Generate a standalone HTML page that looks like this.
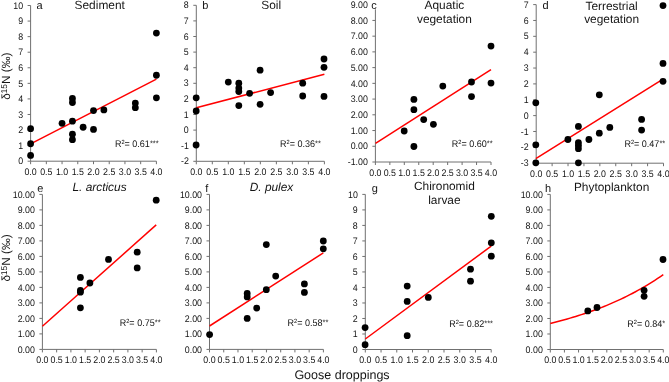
<!DOCTYPE html>
<html><head><meta charset="utf-8"><style>
html,body{margin:0;padding:0;background:#fff;width:669px;height:382px;overflow:hidden;position:relative}
text{font-family:"Liberation Sans", sans-serif;fill:#141414;text-rendering:geometricPrecision}
.tl{font-size:9.5px}
.tt{font-size:11.9px}
.it{font-style:italic}
.lt{font-size:11px}
.r2{font-size:9.6px}
.sup{font-size:6px}
.star{font-size:8px}
.sup2{font-size:8.5px}
.yt{font-size:11.8px}
.xt{font-size:12.5px}
</style></head><body>
<svg width="669" height="382" viewBox="0 0 669 382" style="position:absolute;left:0;top:0;will-change:transform"><g><path d="M30.60 5.50V161.20H156.40" fill="none" stroke="#707070" stroke-width="1"/><path d="M27.60 5.50H30.60M27.60 21.07H30.60M27.60 36.64H30.60M27.60 52.21H30.60M27.60 67.78H30.60M27.60 83.35H30.60M27.60 98.92H30.60M27.60 114.49H30.60M27.60 130.06H30.60M27.60 145.63H30.60M27.60 161.20H30.60M30.60 161.20V164.20M46.33 161.20V164.20M62.05 161.20V164.20M77.78 161.20V164.20M93.50 161.20V164.20M109.22 161.20V164.20M124.95 161.20V164.20M140.68 161.20V164.20M156.40 161.20V164.20" fill="none" stroke="#707070" stroke-width="1"/><text transform="translate(23.10 8.65) scale(0.93 1)" text-anchor="end" class="tl">10</text><text transform="translate(23.10 24.22) scale(0.93 1)" text-anchor="end" class="tl">9</text><text transform="translate(23.10 39.79) scale(0.93 1)" text-anchor="end" class="tl">8</text><text transform="translate(23.10 55.36) scale(0.93 1)" text-anchor="end" class="tl">7</text><text transform="translate(23.10 70.93) scale(0.93 1)" text-anchor="end" class="tl">6</text><text transform="translate(23.10 86.50) scale(0.93 1)" text-anchor="end" class="tl">5</text><text transform="translate(23.10 102.07) scale(0.93 1)" text-anchor="end" class="tl">4</text><text transform="translate(23.10 117.64) scale(0.93 1)" text-anchor="end" class="tl">3</text><text transform="translate(23.10 133.21) scale(0.93 1)" text-anchor="end" class="tl">2</text><text transform="translate(23.10 148.78) scale(0.93 1)" text-anchor="end" class="tl">1</text><text transform="translate(23.10 164.35) scale(0.93 1)" text-anchor="end" class="tl">0</text><text transform="translate(30.60 174.80) scale(0.93 1)" text-anchor="middle" class="tl">0.0</text><text transform="translate(46.33 174.80) scale(0.93 1)" text-anchor="middle" class="tl">0.5</text><text transform="translate(62.05 174.80) scale(0.93 1)" text-anchor="middle" class="tl">1.0</text><text transform="translate(77.78 174.80) scale(0.93 1)" text-anchor="middle" class="tl">1.5</text><text transform="translate(93.50 174.80) scale(0.93 1)" text-anchor="middle" class="tl">2.0</text><text transform="translate(109.22 174.80) scale(0.93 1)" text-anchor="middle" class="tl">2.5</text><text transform="translate(124.95 174.80) scale(0.93 1)" text-anchor="middle" class="tl">3.0</text><text transform="translate(140.68 174.80) scale(0.93 1)" text-anchor="middle" class="tl">3.5</text><text transform="translate(156.40 174.80) scale(0.93 1)" text-anchor="middle" class="tl">4.0</text><path d="M30.60 143.92L156.40 79.15" stroke="#ff0000" stroke-width="1.5" fill="none"/><circle cx="30.60" cy="128.66" r="3.4" fill="#000"/><circle cx="30.60" cy="143.76" r="3.4" fill="#000"/><circle cx="30.60" cy="155.44" r="3.4" fill="#000"/><circle cx="62.05" cy="123.36" r="3.4" fill="#000"/><circle cx="72.43" cy="98.45" r="3.4" fill="#000"/><circle cx="72.43" cy="102.50" r="3.4" fill="#000"/><circle cx="72.43" cy="121.19" r="3.4" fill="#000"/><circle cx="72.43" cy="134.26" r="3.4" fill="#000"/><circle cx="72.43" cy="139.71" r="3.4" fill="#000"/><circle cx="83.12" cy="127.26" r="3.4" fill="#000"/><circle cx="93.50" cy="110.60" r="3.4" fill="#000"/><circle cx="93.50" cy="129.44" r="3.4" fill="#000"/><circle cx="103.88" cy="109.97" r="3.4" fill="#000"/><circle cx="135.33" cy="103.12" r="3.4" fill="#000"/><circle cx="135.33" cy="107.64" r="3.4" fill="#000"/><circle cx="156.40" cy="97.83" r="3.4" fill="#000"/><circle cx="156.40" cy="33.06" r="3.4" fill="#000"/><circle cx="156.40" cy="75.25" r="3.4" fill="#000"/><text x="99.70" y="9.20" text-anchor="middle" class="tt">Sediment</text><text x="36.60" y="9.00" class="lt">a</text><text transform="translate(114.90 146.70) scale(0.94 1)" class="r2">R<tspan class="sup" dy="-3">2</tspan><tspan dy="3">= 0.61</tspan><tspan class="star" dy="-1">***</tspan></text></g><g><path d="M196.30 5.30V161.30H324.40" fill="none" stroke="#707070" stroke-width="1"/><path d="M193.30 5.30H196.30M193.30 20.90H196.30M193.30 36.50H196.30M193.30 52.10H196.30M193.30 67.70H196.30M193.30 83.30H196.30M193.30 98.90H196.30M193.30 114.50H196.30M193.30 130.10H196.30M193.30 145.70H196.30M193.30 161.30H196.30M196.30 161.30V164.30M212.31 161.30V164.30M228.32 161.30V164.30M244.34 161.30V164.30M260.35 161.30V164.30M276.36 161.30V164.30M292.38 161.30V164.30M308.39 161.30V164.30M324.40 161.30V164.30" fill="none" stroke="#707070" stroke-width="1"/><text transform="translate(188.80 8.45) scale(0.93 1)" text-anchor="end" class="tl">8</text><text transform="translate(188.80 24.05) scale(0.93 1)" text-anchor="end" class="tl">7</text><text transform="translate(188.80 39.65) scale(0.93 1)" text-anchor="end" class="tl">6</text><text transform="translate(188.80 55.25) scale(0.93 1)" text-anchor="end" class="tl">5</text><text transform="translate(188.80 70.85) scale(0.93 1)" text-anchor="end" class="tl">4</text><text transform="translate(188.80 86.45) scale(0.93 1)" text-anchor="end" class="tl">3</text><text transform="translate(188.80 102.05) scale(0.93 1)" text-anchor="end" class="tl">2</text><text transform="translate(188.80 117.65) scale(0.93 1)" text-anchor="end" class="tl">1</text><text transform="translate(188.80 133.25) scale(0.93 1)" text-anchor="end" class="tl">0</text><text transform="translate(188.80 148.85) scale(0.93 1)" text-anchor="end" class="tl">-1</text><text transform="translate(188.80 164.45) scale(0.93 1)" text-anchor="end" class="tl">-2</text><text transform="translate(196.30 174.90) scale(0.93 1)" text-anchor="middle" class="tl">0.0</text><text transform="translate(212.31 174.90) scale(0.93 1)" text-anchor="middle" class="tl">0.5</text><text transform="translate(228.32 174.90) scale(0.93 1)" text-anchor="middle" class="tl">1.0</text><text transform="translate(244.34 174.90) scale(0.93 1)" text-anchor="middle" class="tl">1.5</text><text transform="translate(260.35 174.90) scale(0.93 1)" text-anchor="middle" class="tl">2.0</text><text transform="translate(276.36 174.90) scale(0.93 1)" text-anchor="middle" class="tl">2.5</text><text transform="translate(292.38 174.90) scale(0.93 1)" text-anchor="middle" class="tl">3.0</text><text transform="translate(308.39 174.90) scale(0.93 1)" text-anchor="middle" class="tl">3.5</text><text transform="translate(324.40 174.90) scale(0.93 1)" text-anchor="middle" class="tl">4.0</text><path d="M196.30 107.80L324.40 74.20" stroke="#ff0000" stroke-width="1.5" fill="none"/><circle cx="196.20" cy="97.80" r="3.4" fill="#000"/><circle cx="196.20" cy="111.00" r="3.4" fill="#000"/><circle cx="228.30" cy="82.10" r="3.4" fill="#000"/><circle cx="238.80" cy="83.20" r="3.4" fill="#000"/><circle cx="238.80" cy="88.10" r="3.4" fill="#000"/><circle cx="238.80" cy="91.50" r="3.4" fill="#000"/><circle cx="238.80" cy="105.60" r="3.4" fill="#000"/><circle cx="249.60" cy="93.30" r="3.4" fill="#000"/><circle cx="260.10" cy="70.20" r="3.4" fill="#000"/><circle cx="260.10" cy="104.30" r="3.4" fill="#000"/><circle cx="270.60" cy="92.60" r="3.4" fill="#000"/><circle cx="302.70" cy="83.20" r="3.4" fill="#000"/><circle cx="302.70" cy="96.00" r="3.4" fill="#000"/><circle cx="324.00" cy="59.00" r="3.4" fill="#000"/><circle cx="324.00" cy="67.30" r="3.4" fill="#000"/><circle cx="324.00" cy="96.40" r="3.4" fill="#000"/><circle cx="196.10" cy="145.00" r="3.4" fill="#000"/><text x="271.20" y="9.20" text-anchor="middle" class="tt">Soil</text><text x="202.30" y="9.00" class="lt">b</text><text transform="translate(280.00 146.70) scale(0.94 1)" class="r2">R<tspan class="sup" dy="-3">2</tspan><tspan dy="3">= 0.36</tspan><tspan class="star" dy="-1">**</tspan></text></g><g><path d="M375.40 4.70V162.00H491.00" fill="none" stroke="#707070" stroke-width="1"/><path d="M372.40 4.70H375.40M372.40 20.43H375.40M372.40 36.16H375.40M372.40 51.89H375.40M372.40 67.62H375.40M372.40 83.35H375.40M372.40 99.08H375.40M372.40 114.81H375.40M372.40 130.54H375.40M372.40 146.27H375.40M372.40 162.00H375.40M375.40 162.00V165.00M389.85 162.00V165.00M404.30 162.00V165.00M418.75 162.00V165.00M433.20 162.00V165.00M447.65 162.00V165.00M462.10 162.00V165.00M476.55 162.00V165.00M491.00 162.00V165.00" fill="none" stroke="#707070" stroke-width="1"/><text transform="translate(367.90 7.85) scale(0.93 1)" text-anchor="end" class="tl">9.00</text><text transform="translate(367.90 23.58) scale(0.93 1)" text-anchor="end" class="tl">8.00</text><text transform="translate(367.90 39.31) scale(0.93 1)" text-anchor="end" class="tl">7.00</text><text transform="translate(367.90 55.04) scale(0.93 1)" text-anchor="end" class="tl">6.00</text><text transform="translate(367.90 70.77) scale(0.93 1)" text-anchor="end" class="tl">5.00</text><text transform="translate(367.90 86.50) scale(0.93 1)" text-anchor="end" class="tl">4.00</text><text transform="translate(367.90 102.23) scale(0.93 1)" text-anchor="end" class="tl">3.00</text><text transform="translate(367.90 117.96) scale(0.93 1)" text-anchor="end" class="tl">2.00</text><text transform="translate(367.90 133.69) scale(0.93 1)" text-anchor="end" class="tl">1.00</text><text transform="translate(367.90 149.42) scale(0.93 1)" text-anchor="end" class="tl">0.00</text><text transform="translate(367.90 165.15) scale(0.93 1)" text-anchor="end" class="tl">-1.00</text><text transform="translate(375.40 175.60) scale(0.93 1)" text-anchor="middle" class="tl">0.0</text><text transform="translate(389.85 175.60) scale(0.93 1)" text-anchor="middle" class="tl">0.5</text><text transform="translate(404.30 175.60) scale(0.93 1)" text-anchor="middle" class="tl">1.0</text><text transform="translate(418.75 175.60) scale(0.93 1)" text-anchor="middle" class="tl">1.5</text><text transform="translate(433.20 175.60) scale(0.93 1)" text-anchor="middle" class="tl">2.0</text><text transform="translate(447.65 175.60) scale(0.93 1)" text-anchor="middle" class="tl">2.5</text><text transform="translate(462.10 175.60) scale(0.93 1)" text-anchor="middle" class="tl">3.0</text><text transform="translate(476.55 175.60) scale(0.93 1)" text-anchor="middle" class="tl">3.5</text><text transform="translate(491.00 175.60) scale(0.93 1)" text-anchor="middle" class="tl">4.0</text><path d="M375.50 143.40L491.00 69.70" stroke="#ff0000" stroke-width="1.5" fill="none"/><circle cx="491.00" cy="46.10" r="3.4" fill="#000"/><circle cx="491.00" cy="83.10" r="3.4" fill="#000"/><circle cx="471.50" cy="82.00" r="3.4" fill="#000"/><circle cx="471.50" cy="96.60" r="3.4" fill="#000"/><circle cx="442.80" cy="86.10" r="3.4" fill="#000"/><circle cx="413.90" cy="99.40" r="3.4" fill="#000"/><circle cx="413.90" cy="109.70" r="3.4" fill="#000"/><circle cx="423.70" cy="119.60" r="3.4" fill="#000"/><circle cx="433.40" cy="124.30" r="3.4" fill="#000"/><circle cx="404.20" cy="131.00" r="3.4" fill="#000"/><circle cx="413.90" cy="146.50" r="3.4" fill="#000"/><text x="444.40" y="8.90" text-anchor="middle" class="tt">Aquatic</text><text x="444.40" y="23.00" text-anchor="middle" class="tt">vegetation</text><rect x="369.5" y="0" width="9" height="9.3" fill="#fff"/><text x="371.30" y="9.00" class="lt">c</text><text transform="translate(451.80 146.80) scale(0.94 1)" class="r2">R<tspan class="sup" dy="-3">2</tspan><tspan dy="3">= 0.60</tspan><tspan class="star" dy="-1">**</tspan></text></g><g><path d="M536.20 4.60V163.20H663.50" fill="none" stroke="#707070" stroke-width="1"/><path d="M533.20 4.60H536.20M533.20 20.46H536.20M533.20 36.32H536.20M533.20 52.18H536.20M533.20 68.04H536.20M533.20 83.90H536.20M533.20 99.76H536.20M533.20 115.62H536.20M533.20 131.48H536.20M533.20 147.34H536.20M533.20 163.20H536.20M536.20 163.20V166.20M552.11 163.20V166.20M568.03 163.20V166.20M583.94 163.20V166.20M599.85 163.20V166.20M615.76 163.20V166.20M631.67 163.20V166.20M647.59 163.20V166.20M663.50 163.20V166.20" fill="none" stroke="#707070" stroke-width="1"/><text transform="translate(528.70 7.75) scale(0.93 1)" text-anchor="end" class="tl">7</text><text transform="translate(528.70 23.61) scale(0.93 1)" text-anchor="end" class="tl">6</text><text transform="translate(528.70 39.47) scale(0.93 1)" text-anchor="end" class="tl">5</text><text transform="translate(528.70 55.33) scale(0.93 1)" text-anchor="end" class="tl">4</text><text transform="translate(528.70 71.19) scale(0.93 1)" text-anchor="end" class="tl">3</text><text transform="translate(528.70 87.05) scale(0.93 1)" text-anchor="end" class="tl">2</text><text transform="translate(528.70 102.91) scale(0.93 1)" text-anchor="end" class="tl">1</text><text transform="translate(528.70 118.77) scale(0.93 1)" text-anchor="end" class="tl">0</text><text transform="translate(528.70 134.63) scale(0.93 1)" text-anchor="end" class="tl">-1</text><text transform="translate(528.70 150.49) scale(0.93 1)" text-anchor="end" class="tl">-2</text><text transform="translate(528.70 166.35) scale(0.93 1)" text-anchor="end" class="tl">-3</text><text transform="translate(536.20 176.80) scale(0.93 1)" text-anchor="middle" class="tl">0.0</text><text transform="translate(552.11 176.80) scale(0.93 1)" text-anchor="middle" class="tl">0.5</text><text transform="translate(568.03 176.80) scale(0.93 1)" text-anchor="middle" class="tl">1.0</text><text transform="translate(583.94 176.80) scale(0.93 1)" text-anchor="middle" class="tl">1.5</text><text transform="translate(599.85 176.80) scale(0.93 1)" text-anchor="middle" class="tl">2.0</text><text transform="translate(615.76 176.80) scale(0.93 1)" text-anchor="middle" class="tl">2.5</text><text transform="translate(631.67 176.80) scale(0.93 1)" text-anchor="middle" class="tl">3.0</text><text transform="translate(647.59 176.80) scale(0.93 1)" text-anchor="middle" class="tl">3.5</text><text transform="translate(663.50 176.80) scale(0.93 1)" text-anchor="middle" class="tl">4.0</text><path d="M535.80 158.70L663.00 79.10" stroke="#ff0000" stroke-width="1.5" fill="none"/><circle cx="663.00" cy="5.60" r="3.4" fill="#000"/><circle cx="663.00" cy="63.40" r="3.4" fill="#000"/><circle cx="663.00" cy="81.30" r="3.4" fill="#000"/><circle cx="535.80" cy="102.80" r="3.4" fill="#000"/><circle cx="599.30" cy="94.80" r="3.4" fill="#000"/><circle cx="578.40" cy="126.40" r="3.4" fill="#000"/><circle cx="599.30" cy="133.20" r="3.4" fill="#000"/><circle cx="609.80" cy="127.40" r="3.4" fill="#000"/><circle cx="641.60" cy="119.40" r="3.4" fill="#000"/><circle cx="641.60" cy="130.10" r="3.4" fill="#000"/><circle cx="535.80" cy="144.80" r="3.4" fill="#000"/><circle cx="535.80" cy="162.80" r="3.4" fill="#000"/><circle cx="567.90" cy="139.50" r="3.4" fill="#000"/><circle cx="578.40" cy="142.60" r="3.4" fill="#000"/><circle cx="578.40" cy="145.50" r="3.4" fill="#000"/><circle cx="578.40" cy="148.70" r="3.4" fill="#000"/><circle cx="578.40" cy="162.80" r="3.4" fill="#000"/><circle cx="588.90" cy="139.50" r="3.4" fill="#000"/><text x="611.60" y="9.60" text-anchor="middle" class="tt">Terrestrial</text><text x="611.60" y="23.00" text-anchor="middle" class="tt">vegetation</text><text x="542.60" y="9.00" class="lt">d</text><text transform="translate(624.40 147.20) scale(0.94 1)" class="r2">R<tspan class="sup" dy="-3">2</tspan><tspan dy="3">= 0.47</tspan><tspan class="star" dy="-1">**</tspan></text></g><g><path d="M42.40 194.40V349.40H156.40" fill="none" stroke="#707070" stroke-width="1"/><path d="M39.40 194.40H42.40M39.40 209.90H42.40M39.40 225.40H42.40M39.40 240.90H42.40M39.40 256.40H42.40M39.40 271.90H42.40M39.40 287.40H42.40M39.40 302.90H42.40M39.40 318.40H42.40M39.40 333.90H42.40M39.40 349.40H42.40M42.40 349.40V352.40M56.65 349.40V352.40M70.90 349.40V352.40M85.15 349.40V352.40M99.40 349.40V352.40M113.65 349.40V352.40M127.90 349.40V352.40M142.15 349.40V352.40M156.40 349.40V352.40" fill="none" stroke="#707070" stroke-width="1"/><text transform="translate(34.90 197.55) scale(0.93 1)" text-anchor="end" class="tl">10.00</text><text transform="translate(34.90 213.05) scale(0.93 1)" text-anchor="end" class="tl">9.00</text><text transform="translate(34.90 228.55) scale(0.93 1)" text-anchor="end" class="tl">8.00</text><text transform="translate(34.90 244.05) scale(0.93 1)" text-anchor="end" class="tl">7.00</text><text transform="translate(34.90 259.55) scale(0.93 1)" text-anchor="end" class="tl">6.00</text><text transform="translate(34.90 275.05) scale(0.93 1)" text-anchor="end" class="tl">5.00</text><text transform="translate(34.90 290.55) scale(0.93 1)" text-anchor="end" class="tl">4.00</text><text transform="translate(34.90 306.05) scale(0.93 1)" text-anchor="end" class="tl">3.00</text><text transform="translate(34.90 321.55) scale(0.93 1)" text-anchor="end" class="tl">2.00</text><text transform="translate(34.90 337.05) scale(0.93 1)" text-anchor="end" class="tl">1.00</text><text transform="translate(34.90 352.55) scale(0.93 1)" text-anchor="end" class="tl">0.00</text><text transform="translate(42.40 363.00) scale(0.93 1)" text-anchor="middle" class="tl">0.0</text><text transform="translate(56.65 363.00) scale(0.93 1)" text-anchor="middle" class="tl">0.5</text><text transform="translate(70.90 363.00) scale(0.93 1)" text-anchor="middle" class="tl">1.0</text><text transform="translate(85.15 363.00) scale(0.93 1)" text-anchor="middle" class="tl">1.5</text><text transform="translate(99.40 363.00) scale(0.93 1)" text-anchor="middle" class="tl">2.0</text><text transform="translate(113.65 363.00) scale(0.93 1)" text-anchor="middle" class="tl">2.5</text><text transform="translate(127.90 363.00) scale(0.93 1)" text-anchor="middle" class="tl">3.0</text><text transform="translate(142.15 363.00) scale(0.93 1)" text-anchor="middle" class="tl">3.5</text><text transform="translate(156.40 363.00) scale(0.93 1)" text-anchor="middle" class="tl">4.0</text><path d="M42.40 326.30L156.20 224.90" stroke="#ff0000" stroke-width="1.5" fill="none"/><circle cx="156.20" cy="200.20" r="3.4" fill="#000"/><circle cx="137.20" cy="252.20" r="3.4" fill="#000"/><circle cx="137.20" cy="267.90" r="3.4" fill="#000"/><circle cx="108.50" cy="259.40" r="3.4" fill="#000"/><circle cx="80.40" cy="277.40" r="3.4" fill="#000"/><circle cx="89.90" cy="283.00" r="3.4" fill="#000"/><circle cx="80.40" cy="290.40" r="3.4" fill="#000"/><circle cx="80.40" cy="292.20" r="3.4" fill="#000"/><circle cx="80.40" cy="307.80" r="3.4" fill="#000"/><text x="99.50" y="190.80" text-anchor="middle" class="tt it">L. arcticus</text><text x="37.20" y="191.80" class="lt">e</text><text transform="translate(119.70 325.90) scale(0.94 1)" class="r2">R<tspan class="sup" dy="-3">2</tspan><tspan dy="3">= 0.75</tspan><tspan class="star" dy="-1">**</tspan></text></g><g><path d="M209.50 194.40V349.40H323.40" fill="none" stroke="#707070" stroke-width="1"/><path d="M206.50 194.40H209.50M206.50 209.90H209.50M206.50 225.40H209.50M206.50 240.90H209.50M206.50 256.40H209.50M206.50 271.90H209.50M206.50 287.40H209.50M206.50 302.90H209.50M206.50 318.40H209.50M206.50 333.90H209.50M206.50 349.40H209.50M209.50 349.40V352.40M223.74 349.40V352.40M237.97 349.40V352.40M252.21 349.40V352.40M266.45 349.40V352.40M280.69 349.40V352.40M294.92 349.40V352.40M309.16 349.40V352.40M323.40 349.40V352.40" fill="none" stroke="#707070" stroke-width="1"/><text transform="translate(202.00 197.55) scale(0.93 1)" text-anchor="end" class="tl">10.00</text><text transform="translate(202.00 213.05) scale(0.93 1)" text-anchor="end" class="tl">9.00</text><text transform="translate(202.00 228.55) scale(0.93 1)" text-anchor="end" class="tl">8.00</text><text transform="translate(202.00 244.05) scale(0.93 1)" text-anchor="end" class="tl">7.00</text><text transform="translate(202.00 259.55) scale(0.93 1)" text-anchor="end" class="tl">6.00</text><text transform="translate(202.00 275.05) scale(0.93 1)" text-anchor="end" class="tl">5.00</text><text transform="translate(202.00 290.55) scale(0.93 1)" text-anchor="end" class="tl">4.00</text><text transform="translate(202.00 306.05) scale(0.93 1)" text-anchor="end" class="tl">3.00</text><text transform="translate(202.00 321.55) scale(0.93 1)" text-anchor="end" class="tl">2.00</text><text transform="translate(202.00 337.05) scale(0.93 1)" text-anchor="end" class="tl">1.00</text><text transform="translate(202.00 352.55) scale(0.93 1)" text-anchor="end" class="tl">0.00</text><text transform="translate(209.50 363.00) scale(0.93 1)" text-anchor="middle" class="tl">0.0</text><text transform="translate(223.74 363.00) scale(0.93 1)" text-anchor="middle" class="tl">0.5</text><text transform="translate(237.97 363.00) scale(0.93 1)" text-anchor="middle" class="tl">1.0</text><text transform="translate(252.21 363.00) scale(0.93 1)" text-anchor="middle" class="tl">1.5</text><text transform="translate(266.45 363.00) scale(0.93 1)" text-anchor="middle" class="tl">2.0</text><text transform="translate(280.69 363.00) scale(0.93 1)" text-anchor="middle" class="tl">2.5</text><text transform="translate(294.92 363.00) scale(0.93 1)" text-anchor="middle" class="tl">3.0</text><text transform="translate(309.16 363.00) scale(0.93 1)" text-anchor="middle" class="tl">3.5</text><text transform="translate(323.40 363.00) scale(0.93 1)" text-anchor="middle" class="tl">4.0</text><path d="M209.50 326.00L323.30 252.90" stroke="#ff0000" stroke-width="1.5" fill="none"/><circle cx="266.30" cy="244.60" r="3.4" fill="#000"/><circle cx="323.30" cy="241.00" r="3.4" fill="#000"/><circle cx="323.30" cy="248.80" r="3.4" fill="#000"/><circle cx="275.70" cy="276.10" r="3.4" fill="#000"/><circle cx="304.40" cy="283.90" r="3.4" fill="#000"/><circle cx="304.40" cy="292.40" r="3.4" fill="#000"/><circle cx="266.30" cy="289.70" r="3.4" fill="#000"/><circle cx="247.20" cy="293.50" r="3.4" fill="#000"/><circle cx="247.20" cy="296.90" r="3.4" fill="#000"/><circle cx="256.70" cy="308.10" r="3.4" fill="#000"/><circle cx="247.20" cy="318.40" r="3.4" fill="#000"/><circle cx="209.60" cy="334.60" r="3.4" fill="#000"/><text x="271.50" y="191.40" text-anchor="middle" class="tt it">D. pulex</text><text x="205.30" y="191.80" class="lt">f</text><text transform="translate(287.60 326.10) scale(0.94 1)" class="r2">R<tspan class="sup" dy="-3">2</tspan><tspan dy="3">= 0.58</tspan><tspan class="star" dy="-1">**</tspan></text></g><g><path d="M365.30 194.40V349.50H491.20" fill="none" stroke="#707070" stroke-width="1"/><path d="M362.30 194.40H365.30M362.30 209.91H365.30M362.30 225.42H365.30M362.30 240.93H365.30M362.30 256.44H365.30M362.30 271.95H365.30M362.30 287.46H365.30M362.30 302.97H365.30M362.30 318.48H365.30M362.30 333.99H365.30M362.30 349.50H365.30M365.30 349.50V352.50M381.04 349.50V352.50M396.77 349.50V352.50M412.51 349.50V352.50M428.25 349.50V352.50M443.99 349.50V352.50M459.73 349.50V352.50M475.46 349.50V352.50M491.20 349.50V352.50" fill="none" stroke="#707070" stroke-width="1"/><text transform="translate(357.80 197.55) scale(0.93 1)" text-anchor="end" class="tl">10</text><text transform="translate(357.80 213.06) scale(0.93 1)" text-anchor="end" class="tl">9</text><text transform="translate(357.80 228.57) scale(0.93 1)" text-anchor="end" class="tl">8</text><text transform="translate(357.80 244.08) scale(0.93 1)" text-anchor="end" class="tl">7</text><text transform="translate(357.80 259.59) scale(0.93 1)" text-anchor="end" class="tl">6</text><text transform="translate(357.80 275.10) scale(0.93 1)" text-anchor="end" class="tl">5</text><text transform="translate(357.80 290.61) scale(0.93 1)" text-anchor="end" class="tl">4</text><text transform="translate(357.80 306.12) scale(0.93 1)" text-anchor="end" class="tl">3</text><text transform="translate(357.80 321.63) scale(0.93 1)" text-anchor="end" class="tl">2</text><text transform="translate(357.80 337.14) scale(0.93 1)" text-anchor="end" class="tl">1</text><text transform="translate(357.80 352.65) scale(0.93 1)" text-anchor="end" class="tl">0</text><text transform="translate(365.30 363.10) scale(0.93 1)" text-anchor="middle" class="tl">0.0</text><text transform="translate(381.04 363.10) scale(0.93 1)" text-anchor="middle" class="tl">0.5</text><text transform="translate(396.77 363.10) scale(0.93 1)" text-anchor="middle" class="tl">1.0</text><text transform="translate(412.51 363.10) scale(0.93 1)" text-anchor="middle" class="tl">1.5</text><text transform="translate(428.25 363.10) scale(0.93 1)" text-anchor="middle" class="tl">2.0</text><text transform="translate(443.99 363.10) scale(0.93 1)" text-anchor="middle" class="tl">2.5</text><text transform="translate(459.73 363.10) scale(0.93 1)" text-anchor="middle" class="tl">3.0</text><text transform="translate(475.46 363.10) scale(0.93 1)" text-anchor="middle" class="tl">3.5</text><text transform="translate(491.20 363.10) scale(0.93 1)" text-anchor="middle" class="tl">4.0</text><path d="M365.30 339.00L491.20 246.10" stroke="#ff0000" stroke-width="1.5" fill="none"/><circle cx="491.30" cy="216.30" r="3.4" fill="#000"/><circle cx="491.30" cy="242.80" r="3.4" fill="#000"/><circle cx="491.30" cy="256.20" r="3.4" fill="#000"/><circle cx="470.50" cy="269.20" r="3.4" fill="#000"/><circle cx="470.50" cy="281.20" r="3.4" fill="#000"/><circle cx="407.20" cy="286.10" r="3.4" fill="#000"/><circle cx="407.20" cy="301.40" r="3.4" fill="#000"/><circle cx="428.30" cy="297.40" r="3.4" fill="#000"/><circle cx="407.20" cy="335.70" r="3.4" fill="#000"/><circle cx="365.10" cy="327.60" r="3.4" fill="#000"/><circle cx="365.10" cy="344.70" r="3.4" fill="#000"/><text x="444.40" y="190.30" text-anchor="middle" class="tt">Chironomid</text><text x="444.40" y="204.20" text-anchor="middle" class="tt">larvae</text><text x="371.80" y="191.80" class="lt">g</text><text transform="translate(449.20 326.80) scale(0.94 1)" class="r2">R<tspan class="sup" dy="-3">2</tspan><tspan dy="3">= 0.82</tspan><tspan class="star" dy="-1">***</tspan></text></g><g><path d="M550.30 194.40V349.50H663.30" fill="none" stroke="#707070" stroke-width="1"/><path d="M547.30 194.40H550.30M547.30 209.91H550.30M547.30 225.42H550.30M547.30 240.93H550.30M547.30 256.44H550.30M547.30 271.95H550.30M547.30 287.46H550.30M547.30 302.97H550.30M547.30 318.48H550.30M547.30 333.99H550.30M547.30 349.50H550.30M550.30 349.50V352.50M564.42 349.50V352.50M578.55 349.50V352.50M592.67 349.50V352.50M606.80 349.50V352.50M620.92 349.50V352.50M635.05 349.50V352.50M649.17 349.50V352.50M663.30 349.50V352.50" fill="none" stroke="#707070" stroke-width="1"/><text transform="translate(542.80 197.55) scale(0.93 1)" text-anchor="end" class="tl">10.00</text><text transform="translate(542.80 213.06) scale(0.93 1)" text-anchor="end" class="tl">9.00</text><text transform="translate(542.80 228.57) scale(0.93 1)" text-anchor="end" class="tl">8.00</text><text transform="translate(542.80 244.08) scale(0.93 1)" text-anchor="end" class="tl">7.00</text><text transform="translate(542.80 259.59) scale(0.93 1)" text-anchor="end" class="tl">6.00</text><text transform="translate(542.80 275.10) scale(0.93 1)" text-anchor="end" class="tl">5.00</text><text transform="translate(542.80 290.61) scale(0.93 1)" text-anchor="end" class="tl">4.00</text><text transform="translate(542.80 306.12) scale(0.93 1)" text-anchor="end" class="tl">3.00</text><text transform="translate(542.80 321.63) scale(0.93 1)" text-anchor="end" class="tl">2.00</text><text transform="translate(542.80 337.14) scale(0.93 1)" text-anchor="end" class="tl">1.00</text><text transform="translate(542.80 352.65) scale(0.93 1)" text-anchor="end" class="tl">0.00</text><text transform="translate(550.30 363.10) scale(0.93 1)" text-anchor="middle" class="tl">0.0</text><text transform="translate(564.42 363.10) scale(0.93 1)" text-anchor="middle" class="tl">0.5</text><text transform="translate(578.55 363.10) scale(0.93 1)" text-anchor="middle" class="tl">1.0</text><text transform="translate(592.67 363.10) scale(0.93 1)" text-anchor="middle" class="tl">1.5</text><text transform="translate(606.80 363.10) scale(0.93 1)" text-anchor="middle" class="tl">2.0</text><text transform="translate(620.92 363.10) scale(0.93 1)" text-anchor="middle" class="tl">2.5</text><text transform="translate(635.05 363.10) scale(0.93 1)" text-anchor="middle" class="tl">3.0</text><text transform="translate(649.17 363.10) scale(0.93 1)" text-anchor="middle" class="tl">3.5</text><text transform="translate(663.30 363.10) scale(0.93 1)" text-anchor="middle" class="tl">4.0</text><path d="M550.30 323.44L553.12 322.75L555.95 322.03L558.77 321.30L561.60 320.54L564.42 319.77L567.25 318.97L570.07 318.15L572.90 317.32L575.72 316.45L578.55 315.57L581.38 314.66L584.20 313.73L587.02 312.77L589.85 311.79L592.67 310.78L595.50 309.75L598.32 308.68L601.15 307.59L603.97 306.47L606.80 305.32L609.62 304.14L612.45 302.92L615.27 301.68L618.10 300.40L620.92 299.09L623.75 297.74L626.57 296.35L629.40 294.93L632.22 293.47L635.05 291.97L637.88 290.43L640.70 288.85L643.52 287.23L646.35 285.56L649.17 283.85L652.00 282.10L654.82 280.29L657.65 278.44L660.47 276.54L663.30 274.59" stroke="#ff0000" stroke-width="1.5" fill="none"/><circle cx="663.00" cy="259.50" r="3.4" fill="#000"/><circle cx="587.80" cy="310.90" r="3.4" fill="#000"/><circle cx="597.00" cy="307.50" r="3.4" fill="#000"/><circle cx="644.10" cy="290.30" r="3.4" fill="#000"/><circle cx="644.10" cy="296.30" r="3.4" fill="#000"/><text x="611.60" y="191.20" text-anchor="middle" class="tt">Phytoplankton</text><text x="545.00" y="191.80" class="lt">h</text><text transform="translate(627.30 326.50) scale(0.94 1)" class="r2">R<tspan class="sup" dy="-3">2</tspan><tspan dy="3">= 0.84</tspan><tspan class="star" dy="-1">*</tspan></text></g><g transform="translate(0 0.00)"><text transform="translate(10.0 99.8) rotate(-90)" class="yt">δ</text><text transform="translate(6.8 93.6) rotate(-90)" class="sup2">15</text><text transform="translate(10.0 84.0) rotate(-90)" class="yt">N</text><text transform="translate(10.0 72.2) rotate(-90)" class="yt">(‰)</text></g><g transform="translate(0 181.70)"><text transform="translate(10.0 99.8) rotate(-90)" class="yt">δ</text><text transform="translate(6.8 93.6) rotate(-90)" class="sup2">15</text><text transform="translate(10.0 84.0) rotate(-90)" class="yt">N</text><text transform="translate(10.0 72.2) rotate(-90)" class="yt">(‰)</text></g><text x="342" y="378.6" text-anchor="middle" class="xt">Goose droppings</text></svg>
</body></html>
